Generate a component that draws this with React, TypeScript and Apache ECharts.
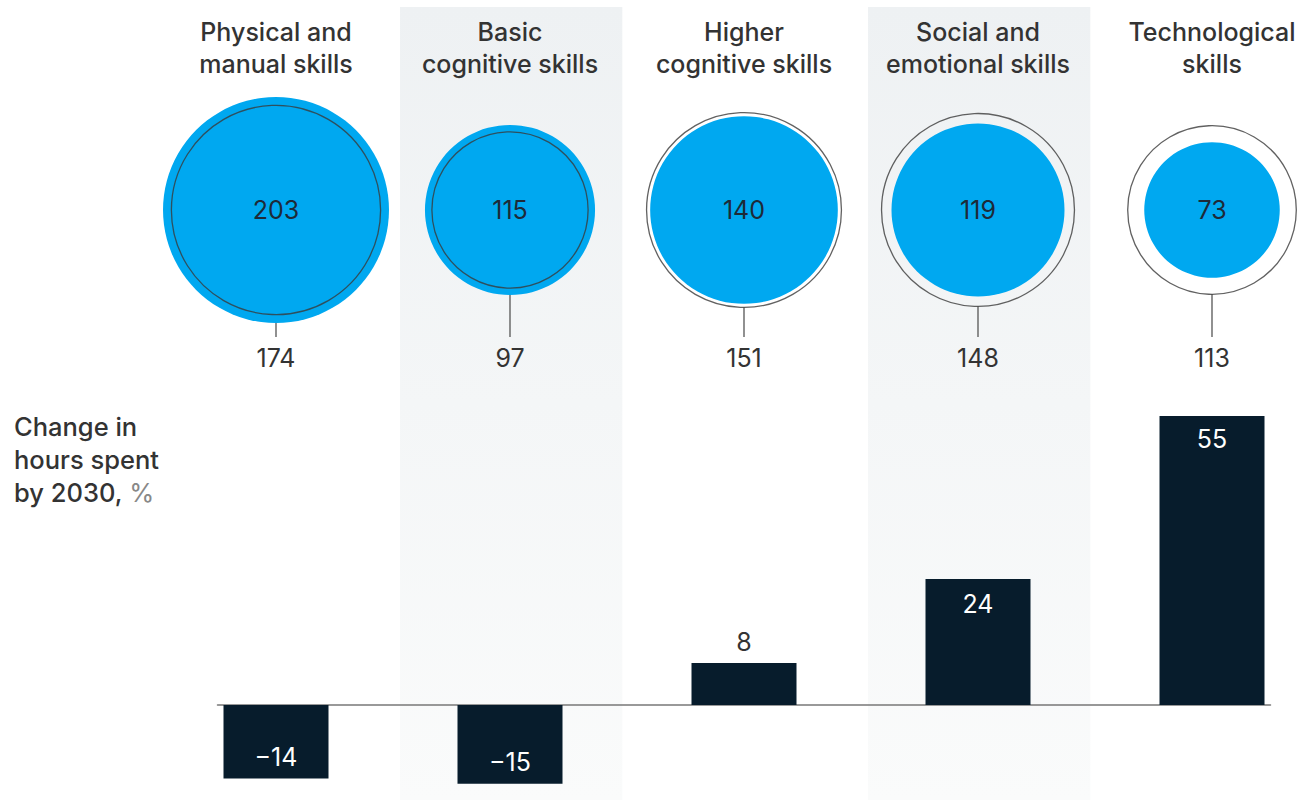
import React, { useEffect, useRef } from "react";
import * as echarts from "echarts";

const categories = [
  "Physical and\nmanual skills",
  "Basic\ncognitive skills",
  "Higher\ncognitive skills",
  "Social and\nemotional skills",
  "Technological\nskills",
];
const hours2016 = [174, 97, 151, 148, 113];
const hours2030 = [203, 115, 140, 119, 73];
const changePct = [-14, -15, 8, 24, 55];
const shadedColumns = [1, 3];

const BLUE = "#00a8f0";
const NAVY = "#071c2c";
const TEXT = "#333333";
const FONT = "Inter, 'Liberation Sans', Arial, sans-serif";
const R_SCALE = 7.93; // px radius per sqrt(unit), area-proportional circles
const CIRCLE_Y = 210;
const STEM_END_Y = 337;
const LABEL_2016_Y = 358;

export default function App() {
  const ref = useRef<HTMLDivElement>(null);

  useEffect(() => {
    if (!ref.current) return;
    const chart = echarts.init(ref.current, null, { renderer: "svg" });

    const xCommon = {
      type: "value" as const,
      min: -0.25,
      max: 4.25,
      axisLabel: { show: false },
      axisTick: { show: false },
      splitLine: { show: false },
    };

    const barData = changePct.map((v, i) => {
      let label: any;
      if (v < 0) {
        label = { position: "insideBottom", distance: 9, color: "#ffffff" };
      } else if (v < 15) {
        label = { position: "top", distance: 8, color: TEXT };
      } else {
        label = { position: "insideTop", distance: v > 40 ? 11 : 13, color: "#ffffff" };
      }
      return { value: [i, v], label };
    });

    const option: any = {
      animation: false,
      backgroundColor: "#ffffff",
      textStyle: { fontFamily: FONT },
      grid: [
        { left: 217.5, width: 1053, top: 389.7, height: 409.9 },
        { left: 217.5, width: 1053, top: 0, height: 400 },
      ],
      xAxis: [
        {
          ...xCommon,
          gridIndex: 0,
          axisLine: { show: true, onZero: true, lineStyle: { color: "#777777", width: 1.5 } },
        },
        { ...xCommon, gridIndex: 1, axisLine: { show: false } },
      ],
      yAxis: [
        {
          type: "value",
          gridIndex: 0,
          min: -18,
          max: 60,
          axisLine: { show: false },
          axisTick: { show: false },
          axisLabel: { show: false },
          splitLine: { show: false },
        },
        {
          type: "value",
          gridIndex: 1,
          min: 0,
          max: 400,
          inverse: true,
          axisLine: { show: false },
          axisTick: { show: false },
          axisLabel: { show: false },
          splitLine: { show: false },
        },
      ],
      series: [
        {
          type: "custom",
          name: "bands",
          xAxisIndex: 1,
          yAxisIndex: 1,
          z: 0,
          silent: true,
          data: shadedColumns.map((i) => [i]),
          renderItem: (params: any, api: any) => {
            const i = api.value(0);
            const x0 = api.coord([i - 0.47, 0])[0];
            const x1 = api.coord([i + 0.48, 0])[0];
            return {
              type: "rect",
              shape: { x: x0, y: 7, width: x1 - x0, height: 793 },
              style: {
                fill: new echarts.graphic.LinearGradient(0, 0, 0, 1, [
                  { offset: 0, color: "#eef1f3" },
                  { offset: 1, color: "#fafbfb" },
                ]),
              },
            };
          },
        },
        {
          type: "custom",
          name: "titles",
          xAxisIndex: 1,
          yAxisIndex: 1,
          z: 5,
          silent: true,
          data: categories.map((c, i) => [i, c]),
          renderItem: (params: any, api: any) => {
            const i = params.dataIndex;
            const c = api.coord([i, 48]);
            return {
              type: "text",
              x: c[0],
              y: c[1],
              style: {
                text: categories[i],
                fill: TEXT,
                font: `500 25px ${FONT}`,
                align: "center",
                verticalAlign: "middle",
                lineHeight: 32,
              },
            };
          },
        },
        {
          type: "scatter",
          name: "2030",
          xAxisIndex: 1,
          yAxisIndex: 1,
          z: 3,
          data: hours2030.map((v, i) => [i, CIRCLE_Y, v]),
          symbol: "circle",
          symbolSize: (d: number[]) => 2 * R_SCALE * Math.sqrt(d[2]),
          itemStyle: { color: BLUE, opacity: 1 },
          label: {
            show: true,
            position: "inside",
            formatter: (p: any) => String(p.value[2]),
            color: "#1e2a38",
            fontSize: 25,
            fontFamily: FONT,
          },
        },
        {
          type: "scatter",
          name: "2016",
          xAxisIndex: 1,
          yAxisIndex: 1,
          z: 4,
          data: hours2016.map((v, i) => [i, CIRCLE_Y, v]),
          symbol: "circle",
          symbolSize: (d: number[]) => 2 * R_SCALE * Math.sqrt(d[2]),
          itemStyle: { color: "rgba(0,0,0,0)", borderColor: "#3a3a3a", borderWidth: 1.3 },
        },
        {
          type: "custom",
          name: "stems",
          xAxisIndex: 1,
          yAxisIndex: 1,
          z: 4,
          silent: true,
          data: hours2016.map((v, i) => [i, v, hours2030[i]]),
          renderItem: (params: any, api: any) => {
            const i = api.value(0);
            const v16 = api.value(1);
            const v30 = api.value(2);
            const r = R_SCALE * Math.sqrt(Math.max(v16, v30));
            const c = api.coord([i, CIRCLE_Y]);
            const end = api.coord([i, STEM_END_Y]);
            const lab = api.coord([i, LABEL_2016_Y]);
            return {
              type: "group",
              children: [
                {
                  type: "line",
                  shape: { x1: c[0], y1: c[1] + r, x2: c[0], y2: end[1] },
                  style: { stroke: "#555555", lineWidth: 1.3 },
                },
                {
                  type: "text",
                  x: lab[0],
                  y: lab[1],
                  style: {
                    text: String(v16),
                    fill: TEXT,
                    font: `25px ${FONT}`,
                    align: "center",
                    verticalAlign: "middle",
                  },
                },
              ],
            };
          },
        },
        {
          type: "bar",
          name: "change",
          xAxisIndex: 0,
          yAxisIndex: 0,
          z: 3,
          barWidth: 105,
          data: barData,
          itemStyle: { color: NAVY },
          label: {
            show: true,
            fontSize: 25,
            fontFamily: FONT,
            formatter: (p: any) => {
              const v = p.value[1];
              return v < 0 ? "\u2212" + Math.abs(v) : String(v);
            },
          },
        },
      ],
      graphic: [
        {
          type: "text",
          left: 14,
          top: 413,
          style: {
            text: "{a|Change in}\n{a|hours spent}\n{a|by 2030, }{b|%}",
            rich: {
              a: { fill: TEXT, font: `500 25.5px ${FONT}`, lineHeight: 33 },
              b: { fill: "#888888", font: `25.5px ${FONT}`, lineHeight: 33 },
            },
          },
        },
      ],
    };

    chart.setOption(option);
    return () => chart.dispose();
  }, []);

  return (
    <div
      ref={ref}
      style={{ position: "fixed", left: 0, top: 0, width: 1307, height: 800 }}
    />
  );
}
